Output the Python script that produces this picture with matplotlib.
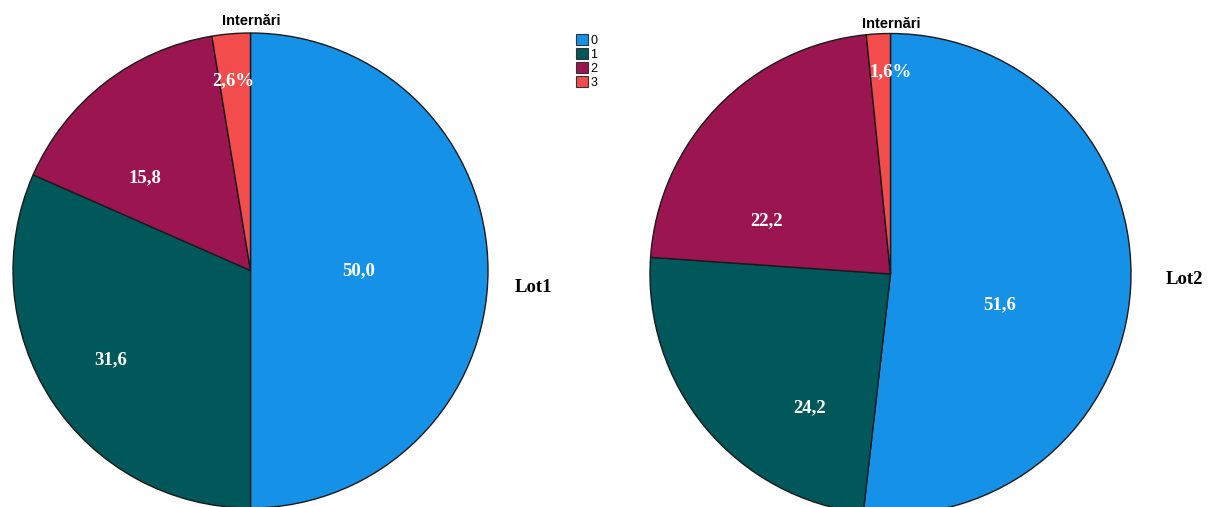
import matplotlib
matplotlib.use("Agg")
import matplotlib.pyplot as plt
from matplotlib.patches import Patch

categories = ["0", "1", "2", "3"]
lot1_values = [50.0, 31.6, 15.8, 2.6]
lot2_values = [51.6, 24.2, 22.2, 1.6]
group_names = ["Lot1", "Lot2"]
title_text = "Internări"
colors = ["#1591E8", "#00585A", "#9B1550", "#F24C4C"]

# label positions (in pie-radius units) – layout only
lot1_label_pos = [(0.455, 0.0), (-0.59, -0.377), (-0.444, 0.389), (-0.074, 0.80)]
lot2_label_pos = [(0.455, -0.129), (-0.335, -0.557), (-0.514, 0.22), (0.0, 0.84)]

W, H = 1211, 507
fig = plt.figure(figsize=(W / 100, H / 100), dpi=100)


def make_axes(cx, cy, r):
    return fig.add_axes([(cx - r) / W, (H - (cy + r)) / H, 2 * r / W, 2 * r / H])


def fmt(v, last):
    s = f"{v:.1f}".replace(".", ",")
    return s + "%" if last else s


def draw(ax, values, label_pos, name):
    ax.pie(values, colors=colors, startangle=90, counterclock=False, radius=1,
           wedgeprops=dict(edgecolor="#1a1a1a", linewidth=1.0))
    ax.set_xlim(-1, 1)
    ax.set_ylim(-1, 1)
    ax.set_aspect("auto")
    ax.axis("off")
    for i, (v, (x, y)) in enumerate(zip(values, label_pos)):
        ax.text(x, y, fmt(v, i == len(values) - 1), ha="center", va="center",
                color="white", fontsize=13.5, fontweight="bold",
                family="Liberation Serif")


ax1 = make_axes(250.5, 270.5, 237.5)
draw(ax1, lot1_values, lot1_label_pos, group_names[0])
ax2 = make_axes(890.5, 274, 240.5)
draw(ax2, lot2_values, lot2_label_pos, group_names[1])

fig.text(251 / W, 1 - 21 / H, title_text, ha="center", va="center",
         fontsize=10.5, fontweight="bold", family="Liberation Sans")
fig.text(891 / W, 1 - 24 / H, title_text, ha="center", va="center",
         fontsize=10.5, fontweight="bold", family="Liberation Sans")
fig.text(533 / W, 1 - 287 / H, group_names[0], ha="center", va="center",
         fontsize=13.5, fontweight="bold", family="Liberation Serif")
fig.text(1184 / W, 1 - 280 / H, group_names[1], ha="center", va="center",
         fontsize=13.5, fontweight="bold", family="Liberation Serif")

handles = [Patch(facecolor=c, edgecolor="#333333", linewidth=0.8) for c in colors]
fig.legend(handles, categories, loc="upper left",
           bbox_to_anchor=(576 / W, 1 - 34 / H), frameon=False,
           handlelength=0.95, handleheight=0.95,
           handletextpad=0.2, labelspacing=0.1, borderpad=0, borderaxespad=0,
           prop={"family": "Liberation Sans", "size": 9})

fig.savefig("out.png", dpi=100)
